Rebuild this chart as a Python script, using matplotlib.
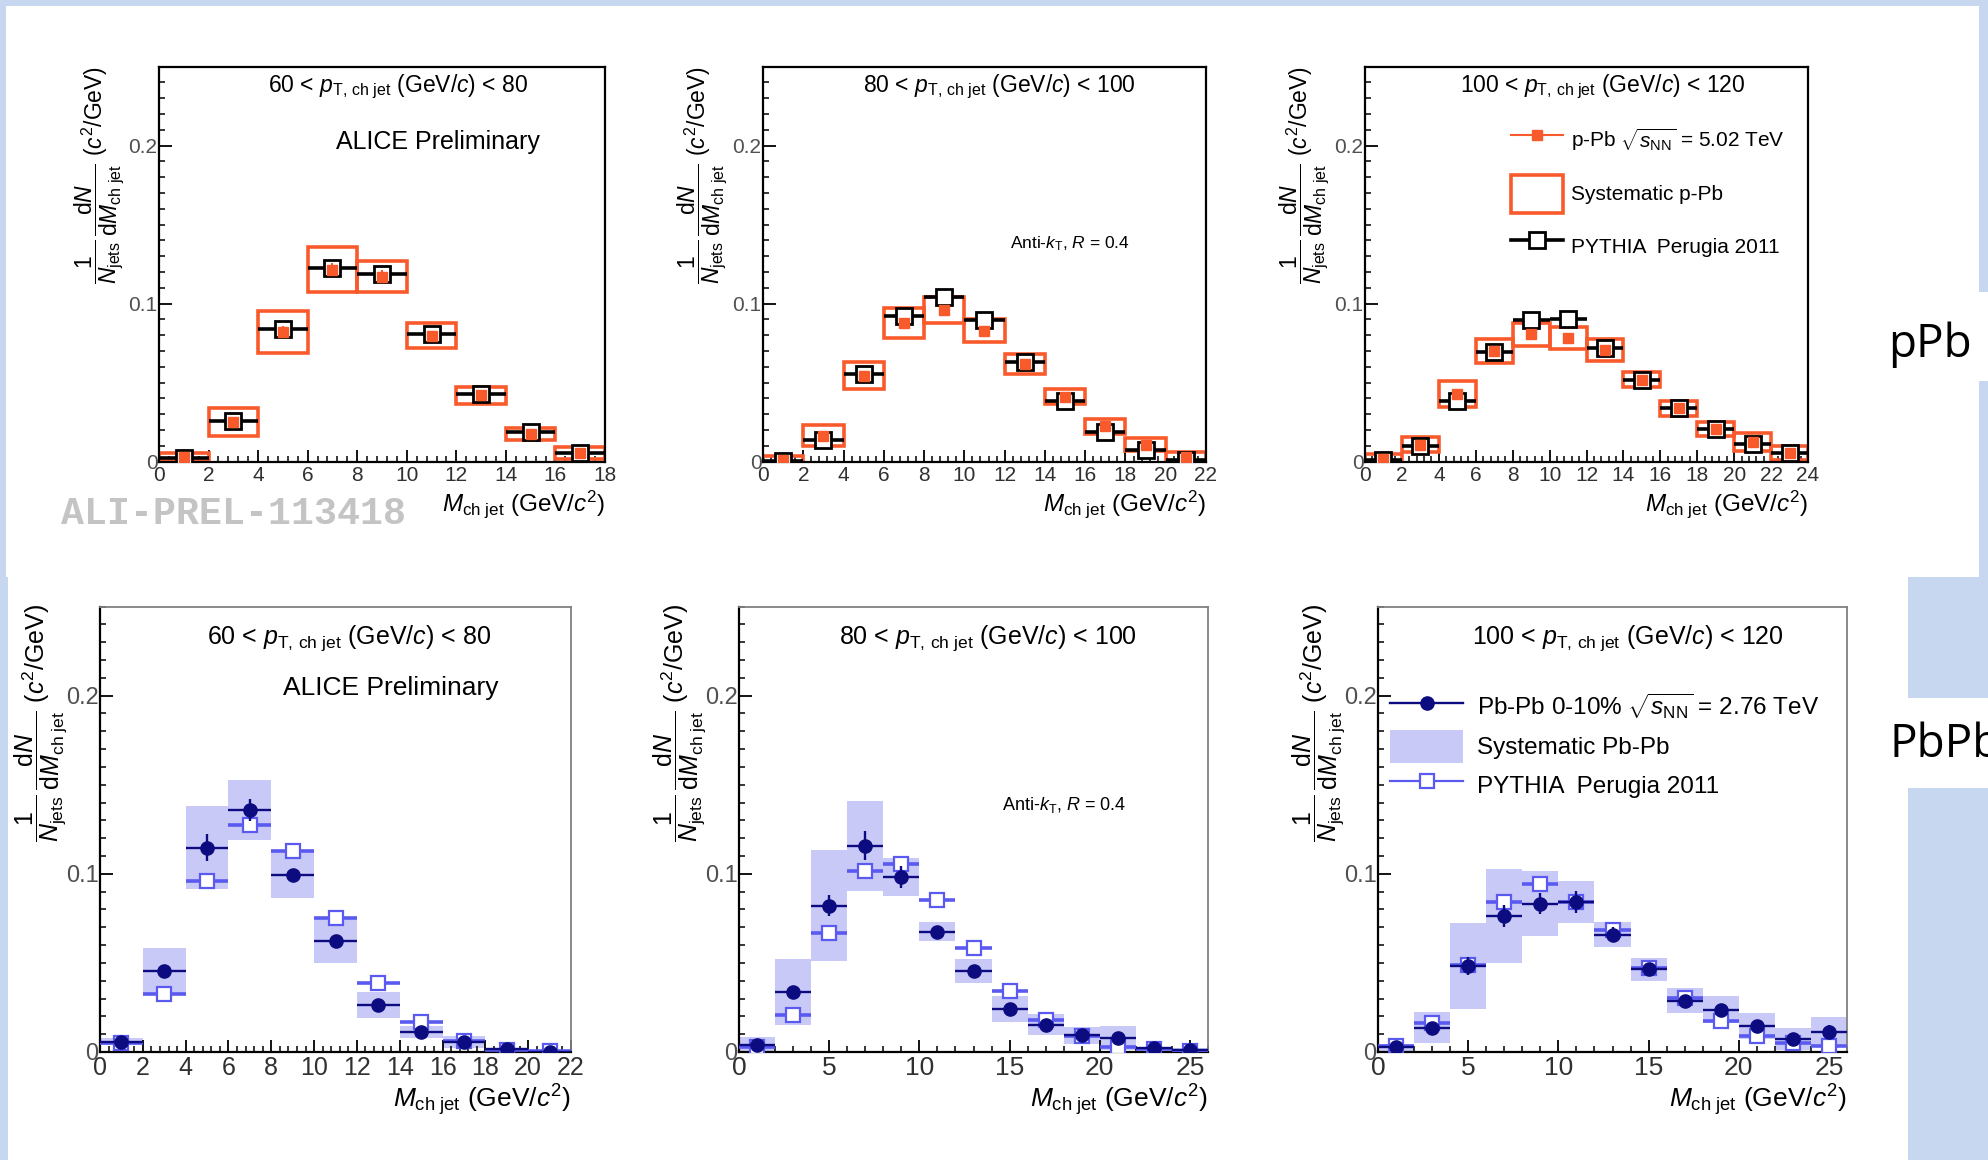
import matplotlib
matplotlib.use('Agg')
import matplotlib.pyplot as plt
from matplotlib.patches import Rectangle, Patch
from matplotlib.lines import Line2D
from matplotlib.ticker import MultipleLocator, FuncFormatter

plt.rcParams['font.family'] = ['Liberation Sans', 'DejaVu Sans']
plt.rcParams['mathtext.fontset'] = 'custom'
plt.rcParams['mathtext.rm'] = 'Liberation Sans'
plt.rcParams['mathtext.it'] = 'Liberation Sans:italic'
plt.rcParams['mathtext.bf'] = 'Liberation Sans:bold'

W, H = 1988, 1160

# ---- p-Pb panels (top row) ----
ppb60_x = [1, 3, 5, 7, 9, 11, 13, 15, 17]
ppb60_pythia = [0.0023, 0.0256, 0.0837, 0.1228, 0.1186, 0.0805, 0.0426, 0.0186, 0.0053]
ppb60_data = [0.003, 0.025, 0.082, 0.1216, 0.117, 0.0798, 0.0419, 0.0177, 0.0053]
ppb60_stat = [0.001, 0.002, 0.004, 0.004, 0.004, 0.002, 0.002, 0.001, 0.001]
ppb60_sys = [0.0025, 0.0088, 0.0133, 0.014, 0.0097, 0.0079, 0.0056, 0.0038, 0.0037]

ppb80_x = [1, 3, 5, 7, 9, 11, 13, 15, 17, 19, 21]
ppb80_pythia = [0.0005, 0.0135, 0.0557, 0.0924, 0.1043, 0.0896, 0.0628, 0.0384, 0.019, 0.0071, 0.0012]
ppb80_data = [0.001, 0.0165, 0.0545, 0.0875, 0.096, 0.083, 0.0618, 0.041, 0.0224, 0.0108, 0.003]
ppb80_stat = [0.001, 0.001, 0.002, 0.003, 0.003, 0.003, 0.002, 0.002, 0.001, 0.001, 0.001]
ppb80_sys = [0.0025, 0.0065, 0.0087, 0.0095, 0.008, 0.0075, 0.0065, 0.0048, 0.0046, 0.0039, 0.003]

ppb100_x = [1, 3, 5, 7, 9, 11, 13, 15, 17, 19, 21, 23]
ppb100_pythia = [0.001, 0.010, 0.0386, 0.0693, 0.0898, 0.0902, 0.072, 0.0519, 0.0337, 0.0205, 0.011, 0.0053]
ppb100_data = [0.002, 0.0108, 0.0427, 0.070, 0.0805, 0.078, 0.0705, 0.052, 0.0338, 0.0205, 0.0122, 0.0055]
ppb100_stat = [0.001, 0.001, 0.002, 0.003, 0.003, 0.003, 0.002, 0.002, 0.001, 0.001, 0.001, 0.001]
ppb100_sys = [0.003, 0.0049, 0.0083, 0.0078, 0.0075, 0.007, 0.0069, 0.005, 0.0048, 0.0045, 0.0057, 0.0045]

# ---- Pb-Pb panels (bottom row) ----
pbpb60_x = [1, 3, 5, 7, 9, 11, 13, 15, 17, 19, 21]
pbpb60_data = [0.0057, 0.0453, 0.1147, 0.1358, 0.0996, 0.0621, 0.0263, 0.0112, 0.0057, 0.0015, 0.0]
pbpb60_stat = [0.003, 0.003, 0.0074, 0.006, 0.003, 0.003, 0.002, 0.002, 0.002, 0.001, 0.001]
pbpb60_pythia = [0.005, 0.0326, 0.0958, 0.1274, 0.1126, 0.0752, 0.0385, 0.0168, 0.0063, 0.001, 0.0004]
pbpb60_sys = [0.002, 0.013, 0.0232, 0.0168, 0.0131, 0.0124, 0.0074, 0.0032, 0.0032, 0.001, 0.001]

pbpb80_x = [1, 3, 5, 7, 9, 11, 13, 15, 17, 19, 21, 23, 25]
pbpb80_data = [0.0042, 0.0337, 0.0821, 0.1158, 0.0983, 0.0674, 0.0453, 0.0242, 0.0154, 0.0095, 0.0078, 0.002, 0.001]
pbpb80_stat = [0.003, 0.003, 0.006, 0.008, 0.006, 0.002, 0.003, 0.003, 0.002, 0.003, 0.002, 0.002, 0.002]
pbpb80_pythia = [0.003, 0.021, 0.0667, 0.1017, 0.1053, 0.0853, 0.0583, 0.0343, 0.0179, 0.009, 0.003, 0.0015, 0.0006]
pbpb80_sys = [0.0042, 0.0186, 0.0313, 0.0253, 0.0105, 0.0053, 0.0068, 0.0074, 0.0058, 0.0048, 0.0068, 0.001, 0.001]

pbpb100_x = [1, 3, 5, 7, 9, 11, 13, 15, 17, 19, 21, 23, 25]
pbpb100_data = [0.0027, 0.0137, 0.0484, 0.0764, 0.0832, 0.0842, 0.0659, 0.0463, 0.0288, 0.0238, 0.0147, 0.0074, 0.0112]
pbpb100_stat = [0.002, 0.002, 0.005, 0.006, 0.006, 0.006, 0.004, 0.003, 0.002, 0.003, 0.003, 0.003, 0.004]
pbpb100_pythia = [0.0036, 0.016, 0.049, 0.0842, 0.094, 0.0842, 0.0684, 0.0474, 0.0305, 0.0175, 0.009, 0.0048, 0.0036]
pbpb100_sys = [0.002, 0.0085, 0.024, 0.0264, 0.0183, 0.0116, 0.0069, 0.0067, 0.0069, 0.0076, 0.0074, 0.006, 0.0085]

BIN_HALF = 1.0

ORANGE = '#f85a2c'
NAVY = '#0c0c80'
BLUE = '#5a5af0'
LAVENDER = '#c9c9f8'
SLIDE_BLUE = '#c6d7ef'
TICKGRAY = '#505050'

YLABEL = r'$\dfrac{1}{N_{\rm jets}}\,\dfrac{{\rm d}N}{{\rm d}M_{\rm ch\ jet}}$ $(c^{2}/{\rm GeV})$'
XLABEL = r'$M_{\rm ch\ jet}$ (GeV/$c^{2}$)'


def title(lo, hi):
    return r'%d < $p_{\rm T,\,ch\ jet}$ (GeV/$c$) < %d' % (lo, hi)


fig = plt.figure(figsize=(W / 100, H / 100), dpi=100, facecolor=SLIDE_BLUE)


def white_box(x0, y0, x1, y1):
    fig.patches.append(Rectangle((x0 / W, 1 - y1 / H), (x1 - x0) / W, (y1 - y0) / H,
                                 transform=fig.transFigure, facecolor='white',
                                 edgecolor='none', zorder=-10))


white_box(6, 6, 1979, 577)
white_box(1979, 292, 1988, 381)
white_box(8, 577, 1908, 1160)
white_box(1908, 698, 1988, 788)


def make_axes(l, r, t, b):
    return fig.add_axes([l / W, 1 - b / H, (r - l) / W, (b - t) / H])


def style_axes(ax, xmax, xmajor, xminor, tick_fs, ytick_fs, spine_gray=False):
    ax.set_xlim(0, xmax)
    ax.set_ylim(0, 0.25)
    ax.xaxis.set_major_locator(MultipleLocator(xmajor))
    ax.xaxis.set_minor_locator(MultipleLocator(xminor))
    ax.yaxis.set_major_locator(MultipleLocator(0.1))
    ax.yaxis.set_minor_locator(MultipleLocator(0.01))
    ax.yaxis.set_major_formatter(FuncFormatter(lambda v, _: '0' if abs(v) < 1e-9 else '%.1f' % v))
    ax.tick_params(which='both', direction='in', top=False, right=False, colors='black')
    ax.tick_params(which='major', length=9, width=1.3)
    ax.tick_params(which='minor', length=4.5, width=1.1)
    ax.tick_params(axis='x', labelsize=tick_fs, labelcolor='#303030', pad=3)
    ax.tick_params(axis='y', labelsize=ytick_fs, labelcolor=TICKGRAY, pad=1)
    for side, sp in ax.spines.items():
        sp.set_linewidth(1.6)
        sp.set_color('black')
        if spine_gray and side in ('top', 'right'):
            sp.set_color('#808080')
            sp.set_linewidth(1.3)


def draw_ppb(ax, x, data, stat, sys, pythia):
    lo = [d - s for d, s in zip(data, sys)]
    ax.bar(x, [2 * s for s in sys], bottom=lo, width=2 * BIN_HALF, fill=False,
           edgecolor=ORANGE, linewidth=2.6, zorder=2)
    ax.errorbar(x, pythia, xerr=BIN_HALF, fmt='s', ms=11, mfc='white', mec='black', mew=2,
                ecolor='black', elinewidth=2.6, capsize=0, zorder=3)
    ax.errorbar(x, data, yerr=stat, fmt='s', ms=7.5, color=ORANGE, mec=ORANGE,
                elinewidth=1.5, capsize=0, zorder=4)


def draw_pbpb(ax, x, data, stat, sys, pythia):
    lo = [d - s for d, s in zip(data, sys)]
    ax.bar(x, [2 * s for s in sys], bottom=lo, width=2 * BIN_HALF, color=LAVENDER,
           linewidth=0, zorder=1)
    ax.errorbar(x, pythia, xerr=BIN_HALF, fmt='s', ms=10, mfc='white', mec=BLUE, mew=1.6,
                ecolor=BLUE, elinewidth=2.6, capsize=0, zorder=3)
    ax.errorbar(x, data, xerr=BIN_HALF, yerr=stat, fmt='o', ms=9.5, color=NAVY,
                elinewidth=1.7, capsize=0, zorder=4)


def labels(ax, ylab_x, ylab_top, ylab_fs, xlab_y, xlab_fs):
    fig.text(ylab_x / W, 1 - ylab_top / H, YLABEL, rotation=90, ha='center', va='top',
             fontsize=ylab_fs)
    ax.text(1.0, xlab_y, XLABEL, transform=ax.transAxes, ha='right', va='center',
            fontsize=xlab_fs)


# ---------------- top row ----------------
ax1 = make_axes(159, 605, 66.6, 461.7)
style_axes(ax1, 18, 2, 0.4, 15, 15)
draw_ppb(ax1, ppb60_x, ppb60_data, ppb60_stat, ppb60_sys, ppb60_pythia)
labels(ax1, 99, 66, 16.5, -0.108, 17.5)
ax1.text(0.536, 0.948, title(60, 80), transform=ax1.transAxes, ha='center', va='center', fontsize=16.5)
ax1.text(0.626, 0.809, 'ALICE Preliminary', transform=ax1.transAxes, ha='center', va='center', fontsize=18)
fig.text(61 / W, 1 - 514 / H, 'ALI-PREL-113418', family='Liberation Mono', weight='bold',
         color='#c4c4c4', fontsize=27.5, ha='left', va='center')

ax2 = make_axes(763, 1206, 66.6, 461.7)
style_axes(ax2, 22, 2, 0.4, 15, 15)
draw_ppb(ax2, ppb80_x, ppb80_data, ppb80_stat, ppb80_sys, ppb80_pythia)
labels(ax2, 702, 66, 16.5, -0.108, 17.5)
ax2.text(0.533, 0.948, title(80, 100), transform=ax2.transAxes, ha='center', va='center', fontsize=16.5)
ax2.text(0.693, 0.551, r'Anti-$k_{\rm T}$, $R$ = 0.4', transform=ax2.transAxes, ha='center',
         va='center', fontsize=12.5)

ax3 = make_axes(1365, 1808, 66.6, 461.7)
style_axes(ax3, 24, 2, 0.4, 15, 15)
draw_ppb(ax3, ppb100_x, ppb100_data, ppb100_stat, ppb100_sys, ppb100_pythia)
labels(ax3, 1304, 66, 16.5, -0.108, 17.5)
ax3.text(0.537, 0.948, title(100, 120), transform=ax3.transAxes, ha='center', va='center', fontsize=16.5)
h_ppb = [Line2D([], [], color=ORANGE, marker='s', ms=7.5, lw=1.5),
         Patch(facecolor='none', edgecolor=ORANGE, linewidth=2.6),
         Line2D([], [], color='black', marker='s', ms=11, mfc='white', mew=2, lw=2.6)]
ax3.legend(h_ppb, [r'p-Pb $\sqrt{s_{\rm NN}}$ = 5.02 TeV', 'Systematic p-Pb', 'PYTHIA  Perugia 2011'],
           loc='upper left', bbox_to_anchor=(0.33, 0.86), frameon=False, fontsize=15,
           handlelength=2.5, handleheight=2.45, labelspacing=0.7, handletextpad=0.35,
           borderpad=0, borderaxespad=0)

fig.text(1888 / W, 1 - 345 / H, 'pPb', family='Open Sans', fontsize=33, ha='left', va='center')

# ---------------- bottom row ----------------
ax4 = make_axes(100, 571, 606.5, 1052)
style_axes(ax4, 22, 2, 0.4, 18, 17, spine_gray=True)
draw_pbpb(ax4, pbpb60_x, pbpb60_data, pbpb60_stat, pbpb60_sys, pbpb60_pythia)
labels(ax4, 41, 604, 18, -0.108, 19)
ax4.text(0.529, 0.929, title(60, 80), transform=ax4.transAxes, ha='center', va='center', fontsize=18)
ax4.text(0.618, 0.817, 'ALICE Preliminary', transform=ax4.transAxes, ha='center', va='center', fontsize=19)

ax5 = make_axes(739, 1208, 606.5, 1052)
style_axes(ax5, 26, 5, 1, 19, 17, spine_gray=True)
draw_pbpb(ax5, pbpb80_x, pbpb80_data, pbpb80_stat, pbpb80_sys, pbpb80_pythia)
labels(ax5, 680, 604, 18, -0.108, 19)
ax5.text(0.531, 0.929, title(80, 100), transform=ax5.transAxes, ha='center', va='center', fontsize=18)
ax5.text(0.693, 0.554, r'Anti-$k_{\rm T}$, $R$ = 0.4', transform=ax5.transAxes, ha='center',
         va='center', fontsize=13)

ax6 = make_axes(1378, 1847, 606.5, 1052)
style_axes(ax6, 26, 5, 1, 19, 17, spine_gray=True)
draw_pbpb(ax6, pbpb100_x, pbpb100_data, pbpb100_stat, pbpb100_sys, pbpb100_pythia)
labels(ax6, 1319, 604, 18, -0.108, 19)
ax6.text(0.533, 0.929, title(100, 120), transform=ax6.transAxes, ha='center', va='center', fontsize=18)
h_pbpb = [Line2D([], [], color=NAVY, marker='o', ms=9.5, lw=1.7),
          Patch(facecolor=LAVENDER, edgecolor='none'),
          Line2D([], [], color=BLUE, marker='s', ms=10, mfc='white', mew=1.6, lw=1.6)]
ax6.legend(h_pbpb, [r'Pb-Pb 0-10% $\sqrt{s_{\rm NN}}$ = 2.76 TeV', 'Systematic Pb-Pb',
                    'PYTHIA  Perugia 2011'],
           loc='upper left', bbox_to_anchor=(0.026, 0.81), frameon=False, fontsize=17.5,
           handlelength=3.0, handleheight=1.7, labelspacing=0.25, handletextpad=0.57,
           borderpad=0, borderaxespad=0)

fig.text(1890 / W, 1 - 745 / H, 'PbPb', family='Open Sans', fontsize=33, ha='left', va='center')

fig.savefig('out.png', dpi=100, facecolor=SLIDE_BLUE)
